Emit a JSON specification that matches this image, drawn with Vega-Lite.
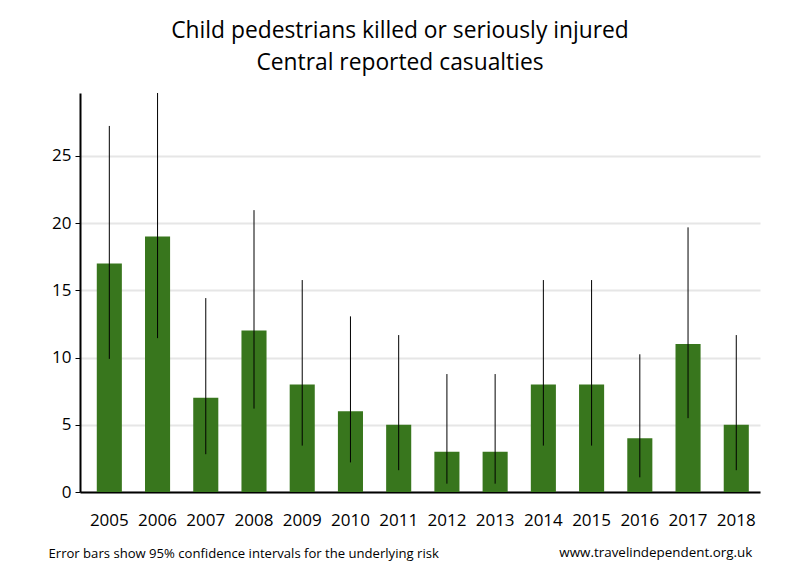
{
  "$schema": "https://vega.github.io/schema/vega-lite/v6.json",
  "width": 680,
  "height": 399,
  "autosize": {"type": "none"},
  "padding": {"left": 80, "top": 93, "right": 40, "bottom": 88},
  "background": "white",
  "config": {
    "view": {"stroke": null},
    "font": "Open Sans"
  },
  "title": {
    "text": ["Child pedestrians killed or seriously injured", "Central reported casualties"],
    "fontSize": 22.8,
    "fontWeight": "normal",
    "font": "Open Sans",
    "color": "black",
    "lineHeight": 32,
    "anchor": "middle",
    "dx": -20,
    "offset": 18
  },
  "data": {
    "values": [
      {"year": "2005", "value": 17, "lower": 9.90, "upper": 27.22},
      {"year": "2006", "value": 19, "lower": 11.44, "upper": 29.67},
      {"year": "2007", "value": 7, "lower": 2.81, "upper": 14.42},
      {"year": "2008", "value": 12, "lower": 6.20, "upper": 20.96},
      {"year": "2009", "value": 8, "lower": 3.45, "upper": 15.76},
      {"year": "2010", "value": 6, "lower": 2.20, "upper": 13.06},
      {"year": "2011", "value": 5, "lower": 1.62, "upper": 11.67},
      {"year": "2012", "value": 3, "lower": 0.62, "upper": 8.77},
      {"year": "2013", "value": 3, "lower": 0.62, "upper": 8.77},
      {"year": "2014", "value": 8, "lower": 3.45, "upper": 15.76},
      {"year": "2015", "value": 8, "lower": 3.45, "upper": 15.76},
      {"year": "2016", "value": 4, "lower": 1.09, "upper": 10.24},
      {"year": "2017", "value": 11, "lower": 5.49, "upper": 19.68},
      {"year": "2018", "value": 5, "lower": 1.62, "upper": 11.67}
    ]
  },
  "encoding": {
    "x": {
      "field": "year",
      "type": "ordinal",
      "scale": {"paddingInner": 0.48, "paddingOuter": 0.29, "align": 0.6},
      "axis": {
        "title": "Error bars show 95% confidence intervals for the underlying risk",
        "titleFont": "Open Sans",
        "titleFontSize": 13.1,
        "titleFontWeight": "normal",
        "titleColor": "black",
        "titleAnchor": "start",
        "titleAlign": "left",
        "titleBaseline": "middle",
        "titleX": -32,
        "titleY": 61,
        "labelAngle": 0,
        "labelFontSize": 17,
        "labelColor": "black",
        "labelPadding": 20,
        "ticks": false,
        "domainColor": "black",
        "domainWidth": 2,
        "grid": false
      }
    }
  },
  "layer": [
    {
      "mark": {"type": "bar", "color": "#38761d"},
      "encoding": {
        "y": {
          "field": "value",
          "type": "quantitative",
          "scale": {"domain": [0, 29.67], "nice": false},
          "axis": {
            "title": null,
            "values": [0, 5, 10, 15, 20, 25],
            "labelFontSize": 17,
            "labelColor": "black",
            "labelPadding": 4,
            "tickSize": 5,
            "tickColor": "black",
            "tickWidth": 1,
            "domainColor": "black",
            "domainWidth": 2,
            "gridColor": "#e6e6e6",
            "gridWidth": 2
          }
        }
      }
    },
    {
      "mark": {"type": "rule", "color": "black", "strokeWidth": 1},
      "encoding": {
        "y": {"field": "lower", "type": "quantitative"},
        "y2": {"field": "upper"}
      }
    },
    {
      "data": {"values": [{"label": "www.travelindependent.org.uk"}]},
      "mark": {"type": "text", "align": "right", "baseline": "middle", "dx": 16, "dy": 61, "fontSize": 13.4, "font": "Open Sans", "color": "black"},
      "encoding": {
        "x": {"datum": "2018"},
        "y": {"datum": 0},
        "text": {"field": "label"}
      }
    }
  ]
}
